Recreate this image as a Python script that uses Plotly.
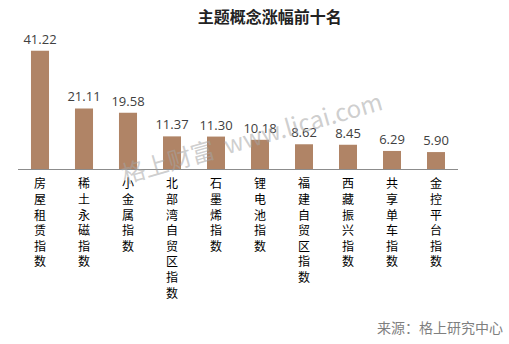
import plotly.graph_objects as go

categories = ["房屋租赁指数", "稀土永磁指数", "小金属指数", "北部湾自贸区指数", "石墨烯指数",
              "锂电池指数", "福建自贸区指数", "西藏振兴指数", "共享单车指数", "金控平台指数"]
values = [41.22, 21.11, 19.58, 11.37, 11.30, 10.18, 8.62, 8.45, 6.29, 5.90]
value_labels = ["41.22", "21.11", "19.58", "11.37", "11.30", "10.18", "8.62", "8.45", "6.29", "5.90"]
vertical_ticks = ["<br>".join(list(c)) for c in categories]

fig = go.Figure(go.Bar(
    x=categories, y=values,
    marker=dict(color="#B08466", line=dict(width=0)),
    width=0.41,
    text=value_labels, textposition="outside", constraintext="none",
    textfont=dict(family="Open Sans, Liberation Sans, sans-serif", size=13, color="#404040"),
    cliponaxis=False,
))

fig.update_layout(
    width=509, height=344,
    margin=dict(l=18, r=51, t=37, b=175),
    paper_bgcolor="white", plot_bgcolor="white",
    showlegend=False,
    title=dict(text="<b>主题概念涨幅前十名</b>", x=0.53, xanchor="center", y=0.95, yanchor="middle",
               font=dict(family="Noto Sans CJK SC", size=16, color="#222222")),
    xaxis=dict(tickmode="array", tickvals=categories, ticktext=vertical_ticks,
               tickangle=0, ticks="", showline=True, linecolor="#8c8c8c", linewidth=1,
               ticklabelstandoff=4,
               tickfont=dict(family="Noto Sans CJK SC", size=12, color="#000000"),
               showgrid=False),
    yaxis=dict(range=[0, 46], visible=False, showgrid=False),
    annotations=[
        dict(text="来源：格上研究中心", xref="paper", yref="paper", x=1.107, y=-1.197,
             xanchor="right", yanchor="middle", showarrow=False,
             font=dict(family="Noto Sans CJK SC", size=14, color="#7f7f7f")),
        dict(text="格上财富  www.licai.com", xref="paper", yref="paper", x=0.53, y=0.25,
             xanchor="center", yanchor="middle", showarrow=False, textangle=-16,
             font=dict(family="Noto Sans CJK SC", size=24, color="rgba(165,165,165,0.55)")),
    ],
)

fig.write_html("out.html")
